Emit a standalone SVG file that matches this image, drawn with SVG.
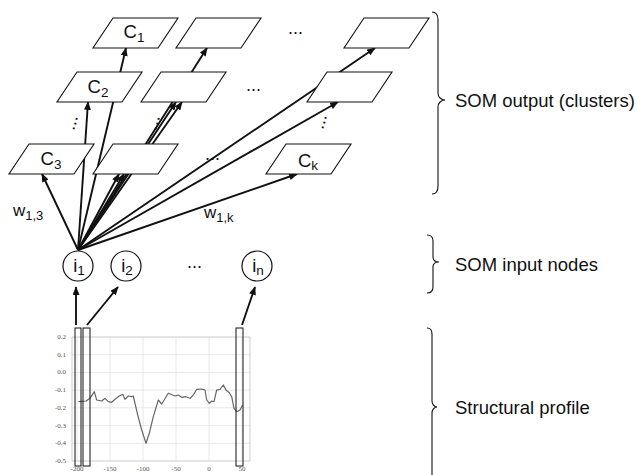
<svg xmlns="http://www.w3.org/2000/svg" width="637" height="475" viewBox="0 0 637 475">
<defs>
<style>
.box{fill:#fff;stroke:#111;stroke-width:1.1}
.lbl{font-family:"Liberation Sans",Arial,sans-serif;font-size:18.5px;fill:#111}
.sub{font-size:13.5px}
.w{font-family:"Liberation Sans",Arial,sans-serif;font-size:17px;fill:#111}
.wsub{font-size:13px}
.dots{font-family:"Liberation Sans",Arial,sans-serif;font-size:18px;fill:#111}
.conn{stroke:#111;stroke-width:1.9;fill:none;marker-end:url(#ah)}
.node{fill:#fff;stroke:#111;stroke-width:1.2}
.brace{fill:none;stroke:#111;stroke-width:1.1}
.side{font-family:"Liberation Sans",Arial,sans-serif;font-size:18.5px;fill:#111}
.grid{stroke:#e2e2e2;stroke-width:0.8}
.tick{font-family:"Liberation Serif","Times New Roman",serif;font-size:7px;fill:#555}
.sel{fill:none;stroke:#111;stroke-width:1}
</style>
<marker id="ah" viewBox="0 0 10 8" refX="9" refY="4" markerWidth="9" markerHeight="7" markerUnits="userSpaceOnUse" orient="auto">
<path d="M0,0 L10,4 L0,8 z" fill="#111"/>
</marker>
</defs>
<rect width="637" height="475" fill="#fff"/>

<!-- connectors -->
<g id="connectors">
<line class="conn" x1="78" y1="250" x2="42" y2="174"/>
<line class="conn" x1="78" y1="250" x2="88" y2="102"/>
<line class="conn" x1="78" y1="250" x2="126" y2="48"/>
<line class="conn" x1="78" y1="250" x2="119" y2="174"/>
<line class="conn" x1="78" y1="250" x2="124" y2="174"/>
<line class="conn" x1="78" y1="250" x2="176" y2="102"/>
<line class="conn" x1="78" y1="250" x2="182" y2="102"/>
<line class="conn" x1="78" y1="250" x2="207" y2="48"/>
<line class="conn" x1="78" y1="250" x2="297" y2="174"/>
<line class="conn" x1="78" y1="250" x2="338" y2="102"/>
<line class="conn" x1="78" y1="250" x2="375" y2="48"/>
<line class="conn" x1="76" y1="325" x2="76" y2="287"/>
<line class="conn" x1="87" y1="325" x2="118" y2="287"/>
<line class="conn" x1="242" y1="325" x2="255" y2="287"/>
</g>

<!-- SOM output nodes -->
<g id="out-c1"><polygon class="box" points="113,18 178,18 158,48 93,48"/><text class="lbl" x="134" y="38" text-anchor="middle">C<tspan class="sub" dy="4">1</tspan></text></g>
<g id="out-r1m"><polygon class="box" points="196,18 261,18 241,48 176,48"/></g>
<g id="out-r1r"><polygon class="box" points="364,18 429,18 409,48 344,48"/></g>
<g id="out-c2"><polygon class="box" points="77,72 142,72 122,102 57,102"/><text class="lbl" x="98" y="93" text-anchor="middle">C<tspan class="sub" dy="4">2</tspan></text></g>
<g id="out-r2m"><polygon class="box" points="161,72 226,72 206,102 141,102"/></g>
<g id="out-r2r"><polygon class="box" points="327,72 392,72 372,102 307,102"/></g>
<g id="out-c3"><polygon class="box" points="29,144 94,144 74,174 9,174"/><text class="lbl" x="51" y="165" text-anchor="middle">C<tspan class="sub" dy="4">3</tspan></text></g>
<g id="out-r3m"><polygon class="box" points="113,144 178,144 158,174 93,174"/></g>
<g id="out-ck"><polygon class="box" points="286,144 351,144 331,174 266,174"/><text class="lbl" x="308" y="167" text-anchor="middle">C<tspan class="sub" dy="3">k</tspan></text></g>

<!-- ellipses -->
<g id="ellipses">
<text class="dots" x="288" y="34">...</text>
<text class="dots" x="246" y="91">...</text>
<text class="dots" x="205" y="160">...</text>
<text class="dots" x="187" y="268">...</text>
<text class="dots" transform="translate(74,131) rotate(-74)">...</text>
<text class="dots" transform="translate(156,131) rotate(-74)">...</text>
<text class="dots" transform="translate(323,130) rotate(-74)">...</text>
</g>

<!-- weight labels -->
<g id="weights">
<text class="w" x="13" y="216">w<tspan class="wsub" dy="4">1,3</tspan></text>
<text class="w" x="204" y="218">w<tspan class="wsub" dy="4">1,k</tspan></text>
</g>

<!-- SOM input nodes -->
<g id="in-1"><circle class="node" cx="78" cy="266" r="15"/><text class="lbl" x="79" y="272" text-anchor="middle">i<tspan class="sub" dy="3">1</tspan></text></g>
<g id="in-2"><circle class="node" cx="126" cy="266" r="15"/><text class="lbl" x="127" y="272" text-anchor="middle">i<tspan class="sub" dy="3">2</tspan></text></g>
<g id="in-n"><circle class="node" cx="257" cy="266" r="15"/><text class="lbl" x="258" y="272" text-anchor="middle">i<tspan class="sub" dy="3">n</tspan></text></g>

<!-- structural profile chart -->
<g id="profile">
<g class="grid">
<line x1="72" y1="354.7" x2="250" y2="354.7"/>
<line x1="72" y1="372.4" x2="250" y2="372.4"/>
<line x1="72" y1="390.1" x2="250" y2="390.1"/>
<line x1="72" y1="407.8" x2="250" y2="407.8"/>
<line x1="72" y1="425.6" x2="250" y2="425.6"/>
<line x1="72" y1="443.3" x2="250" y2="443.3"/>
<line x1="77" y1="337" x2="77" y2="461"/>
<line x1="110" y1="337" x2="110" y2="461"/>
<line x1="143" y1="337" x2="143" y2="461"/>
<line x1="176" y1="337" x2="176" y2="461"/>
<line x1="209" y1="337" x2="209" y2="461"/>
<line x1="242" y1="337" x2="242" y2="461"/>
</g>
<rect x="72" y="337" width="178" height="124" fill="none" stroke="#c8c8c8" stroke-width="0.9"/>
<g class="tick" text-anchor="end">
<text x="66" y="339">0.2</text>
<text x="66" y="357">0.1</text>
<text x="66" y="374">0.0</text>
<text x="66" y="392">-0.1</text>
<text x="66" y="410">-0.2</text>
<text x="66" y="428">-0.3</text>
<text x="66" y="445">-0.4</text>
<text x="66" y="463">-0.5</text>
</g>
<g class="tick" text-anchor="middle">
<text x="77" y="471">-200</text>
<text x="110" y="471">-150</text>
<text x="143" y="471">-100</text>
<text x="176" y="471">-50</text>
<text x="209" y="471">0</text>
<text x="242" y="471">50</text>
</g>
<polyline fill="none" stroke="#666" stroke-width="1.2" stroke-linejoin="round" points="78.3,401.7 86,401 90,398.3 94.3,391.7 96.7,400 101.7,401 105,398.3 108.3,401.7 111.7,402.3 115,399.3 119.3,396 122.7,394.3 125,399.3 128.3,396 131.7,396.7 133.3,396 137.3,413.3 141.7,430 146,443.3 149.3,433.3 153.3,416.7 158.3,400 161.7,404 168.3,393.3 175,396 178.3,395 181.7,397.3 186,396.7 190,398.3 193.3,395 196.7,389.3 201.7,389 205,390 206.7,400 209.3,403.3 211.7,401 214,401.7 216.7,390 220,389.3 223.3,385 226,390 229.3,392.7 231.7,396.7 234,408.3 236.7,411.7 240,410 242.7,405"/>
<rect class="sel" x="75" y="328" width="6" height="138"/>
<rect class="sel" x="83" y="328" width="7" height="138"/>
<rect class="sel" x="236" y="328" width="7" height="138"/>
</g>

<!-- braces and side labels -->
<g id="brace-output">
<path class="brace" d="M432,12 C436,12 438,15 438,20 L438,93 C438,97 441,100 445,100 C441,100 438,103 438,107 L438,186 C438,191 436,194 432,194"/>
<text class="side" x="455" y="107">SOM output (clusters)</text>
</g>
<g id="brace-input">
<path class="brace" d="M427,235 C431,235 433,237 433,241 L433,257 C433,260 435,262 439,262 C435,262 433,264 433,267 L433,287 C433,291 431,293 427,293"/>
<text class="side" x="455" y="271">SOM input nodes</text>
</g>
<g id="brace-profile">
<path class="brace" d="M427,328 C430,328 432,330 432,334 L432,401 C432,404 434,407 437,407 C434,407 432,410 432,413 L432,480 C432,484 430,486 427,486"/>
<text class="side" x="455" y="414">Structural profile</text>
</g>
</svg>
